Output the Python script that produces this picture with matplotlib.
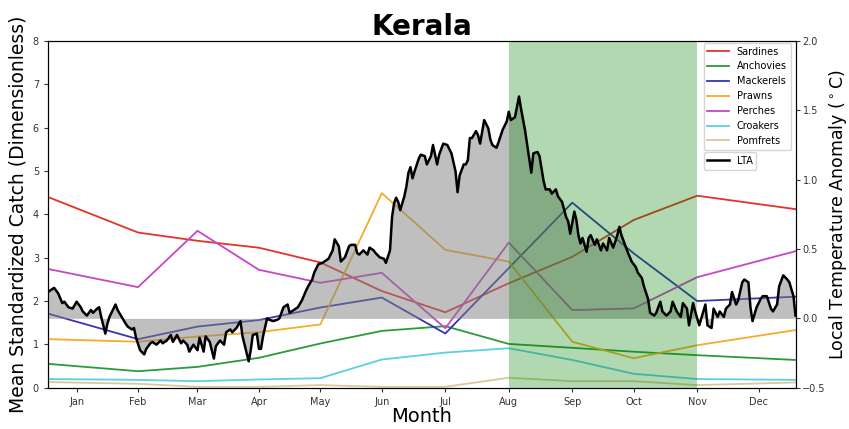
#coding:utf-8

# Kerala - monthly catch vs local temperature anomaly

import numpy as np
import matplotlib
matplotlib.use("Agg")
import matplotlib.pyplot as plt

months = ["Jan", "Feb", "Mar", "Apr", "May", "Jun", "Jul", "Aug", "Sep", "Oct", "Nov", "Dec"]
month_ticks = [14, 44, 73, 103, 133, 163, 194, 225, 256, 286, 317, 347]
catch_days = [0, 44, 73, 103, 133, 163, 194, 225, 256, 286, 317, 365]

sardines  = [4.40, 3.58, 3.39, 3.23, 2.89, 2.23, 1.74, 2.41, 3.02, 3.87, 4.43, 4.12]
anchovies = [0.55, 0.38, 0.48, 0.69, 1.02, 1.31, 1.42, 1.01, 0.92, 0.83, 0.75, 0.64]
mackerels = [1.71, 1.12, 1.41, 1.56, 1.85, 2.08, 1.25, 2.76, 4.27, 3.10, 2.00, 2.10]
prawns    = [1.12, 1.06, 1.18, 1.28, 1.46, 4.49, 3.18, 2.91, 1.06, 0.68, 0.98, 1.33]
perches   = [2.74, 2.32, 3.62, 2.72, 2.42, 2.65, 1.37, 3.35, 1.79, 1.83, 2.55, 3.15]
croakers  = [0.20, 0.18, 0.15, 0.19, 0.22, 0.65, 0.81, 0.91, 0.64, 0.32, 0.20, 0.18]
pomfrets  = [0.13, 0.09, 0.02, 0.02, 0.06, 0.02, 0.02, 0.23, 0.15, 0.15, 0.06, 0.12]

# local temperature anomaly (day of year, deg C)
lta_day = [0, 3, 5, 7, 8, 10, 12, 14, 16, 17, 19, 21, 22, 24, 25, 26, 28, 29, 30, 32,
           33, 34, 36, 38, 39, 41, 42, 43, 45, 47, 48, 50, 51, 53, 55, 56, 58, 60, 61, 63,
           65, 66, 68, 69, 71, 73, 74, 76, 77, 79, 81, 82, 84, 86, 87, 89, 90, 92, 94, 95,
           97, 98, 99, 100, 102, 103, 104, 105, 107, 108, 110, 112, 113, 115, 117, 118, 120, 122, 124, 126,
           127, 129, 130, 132, 134, 135, 137, 139, 140, 142, 143, 145, 147, 148, 150, 151, 152, 154, 156, 157,
           159, 160, 162, 164, 165, 167, 168, 169, 170, 171, 172, 174, 175, 176, 177, 178, 179, 181, 182, 184,
           185, 187, 188, 190, 191, 193, 195, 197, 199, 200, 201, 203, 204, 205, 206, 207, 209, 210, 211, 213,
           215, 216, 217, 219, 220, 222, 224, 225, 226, 228, 230, 231, 233, 235, 236, 237, 239, 240, 242, 243,
           245, 246, 248, 249, 251, 253, 254, 255, 256, 257, 258, 259, 260, 261, 263, 264, 265, 267, 268, 270,
           271, 273, 274, 276, 278, 279, 280, 282, 283, 285, 287, 288, 290, 291, 293, 294, 296, 297, 299, 300,
           302, 304, 305, 307, 309, 310, 312, 313, 315, 316, 318, 319, 321, 322, 324, 325, 327, 328, 330, 331,
           333, 334, 336, 337, 339, 340, 342, 343, 344, 346, 348, 349, 351, 353, 354, 356, 357, 359, 361, 362,
           364, 365]
lta = [0.19, 0.22, 0.18, 0.11, 0.12, 0.08, 0.07, 0.12, 0.08, 0.05, 0.02, 0.06, 0.04, 0.07, 0.08, 0.01, -0.11, -0.04, 0.01, 0.07,
       0.10, 0.06, 0.01, -0.04, -0.06, -0.08, -0.07, -0.14, -0.23, -0.26, -0.22, -0.18, -0.17, -0.19, -0.16, -0.18, -0.16, -0.12, -0.17, -0.12,
       -0.18, -0.16, -0.19, -0.24, -0.19, -0.23, -0.14, -0.24, -0.13, -0.17, -0.29, -0.20, -0.16, -0.19, -0.10, -0.08, -0.10, -0.07, -0.02, -0.13,
       -0.25, -0.31, -0.23, -0.12, -0.11, -0.22, -0.22, -0.13, 0.00, -0.01, -0.02, -0.01, 0.00, 0.08, 0.10, 0.04, 0.06, 0.08, 0.13, 0.20,
       0.23, 0.28, 0.33, 0.39, 0.40, 0.41, 0.43, 0.49, 0.57, 0.52, 0.41, 0.44, 0.52, 0.53, 0.53, 0.47, 0.46, 0.49, 0.46, 0.51,
       0.49, 0.47, 0.44, 0.43, 0.40, 0.49, 0.73, 0.83, 0.87, 0.84, 0.78, 0.88, 0.95, 1.05, 1.09, 1.01, 1.06, 1.15, 1.18, 1.17,
       1.11, 1.17, 1.25, 1.11, 1.18, 1.26, 1.25, 1.19, 1.06, 0.91, 1.03, 1.11, 1.11, 1.14, 1.30, 1.30, 1.35, 1.32, 1.26, 1.43,
       1.37, 1.29, 1.25, 1.23, 1.27, 1.36, 1.42, 1.49, 1.43, 1.45, 1.60, 1.51, 1.35, 1.15, 1.05, 1.19, 1.20, 1.17, 0.99, 0.93,
       0.93, 0.90, 0.93, 0.88, 0.84, 0.73, 0.70, 0.61, 0.69, 0.77, 0.71, 0.60, 0.54, 0.58, 0.48, 0.58, 0.60, 0.53, 0.57, 0.49,
       0.54, 0.49, 0.58, 0.51, 0.60, 0.66, 0.60, 0.52, 0.48, 0.41, 0.37, 0.33, 0.29, 0.23, 0.14, 0.04, 0.02, 0.04, 0.12, 0.05,
       0.02, 0.05, 0.12, 0.05, 0.01, 0.11, 0.07, -0.05, 0.11, 0.05, -0.05, 0.00, 0.10, -0.05, -0.07, 0.07, 0.01, 0.05, 0.01, 0.07,
       0.10, 0.19, 0.10, 0.13, 0.26, 0.28, 0.26, 0.08, -0.02, 0.08, 0.14, 0.16, 0.16, 0.07, 0.05, 0.10, 0.23, 0.31, 0.28, 0.26,
       0.16, 0.02]

fig = plt.figure(figsize=(8.49, 4.29), dpi=100)
ax = fig.add_axes([0.0565, 0.0963, 0.8805, 0.8081])
ax2 = ax.twinx()

ax.plot(catch_days, sardines, color="#e2332b", lw=1.3, label="Sardines")
ax.plot(catch_days, anchovies, color="#2b9a3b", lw=1.3, label="Anchovies")
ax.plot(catch_days, mackerels, color="#3535b0", lw=1.3, label="Mackerels")
ax.plot(catch_days, prawns, color="#f3ad2a", lw=1.3, label="Prawns")
ax.plot(catch_days, perches, color="#c447c4", lw=1.3, label="Perches")
ax.plot(catch_days, croakers, color="#5ccfe0", lw=1.3, label="Croakers")
ax.plot(catch_days, pomfrets, color="#d9c99a", lw=1.3, label="Pomfrets")

ax2.fill_between(lta_day, lta, 0, color="gray", alpha=0.5, lw=0)
ax2.plot(lta_day, lta, color="black", lw=1.8, label="LTA")
ax2.axvspan(month_ticks[7], month_ticks[10], color="green", alpha=0.3, lw=0)

ax.set_xlim(0, 365)
ax.set_ylim(0, 8)
ax2.set_ylim(-0.5, 2.0)
ax.set_xticks(month_ticks)
ax.set_xticklabels(months)
ax.set_yticks(range(0, 9))
ax2.set_yticks([-0.5, 0.0, 0.5, 1.0, 1.5, 2.0])
ax.tick_params(labelsize=7, colors="#333333", length=3)
ax2.tick_params(labelsize=7, colors="#333333", length=3, pad=2)

ax.set_title("Kerala", fontsize=20, fontweight="bold", pad=2)
ax.set_xlabel("Month", fontsize=14, labelpad=0)
ax.set_ylabel("Mean Standardized Catch (Dimensionless)", fontsize=13.5, labelpad=4)
ax2.set_ylabel(r"Local Temperature Anomaly ($^\circ$C)", fontsize=12.5, labelpad=1)

ax.legend(loc="upper left", bbox_to_anchor=(0.877, 0.995), fontsize=7, handlelength=2.2, borderaxespad=0.)
ax2.legend(loc="upper left", bbox_to_anchor=(0.877, 0.68), fontsize=7, handlelength=2.2, borderaxespad=0.)

plt.savefig("out.png", dpi=100)
